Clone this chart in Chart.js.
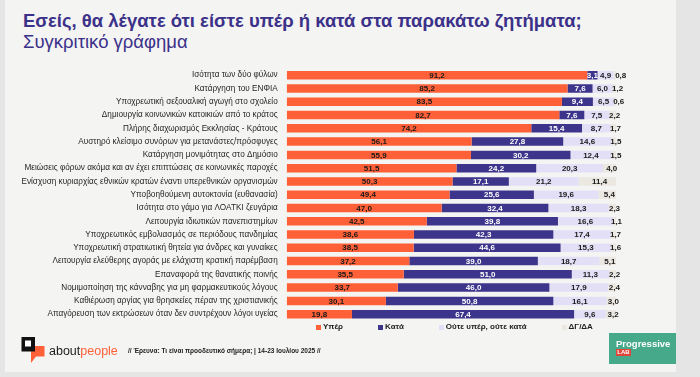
<!DOCTYPE html>
<html lang="el">
<head>
<meta charset="UTF-8">
<title>Συγκριτικό γράφημα</title>
<script src="https://cdn.jsdelivr.net/npm/chart.js@4.4.1/dist/chart.umd.min.js"></script>
<style>
    html, body { margin: 0; padding: 0; }
    body {
        width: 700px; height: 377px; position: relative; overflow: hidden;
        background: #e5e5e5;
        font-family: "Liberation Sans", Arial, sans-serif;
    }
    .panel { position: absolute; left: 5px; top: 0; width: 671px; height: 372px; background: #f4f4f3; }
    #chart { position: absolute; left: 0; top: 0; }
    .title { position: absolute; left: 23px; top: 9.6px; font-size: 18.5px; line-height: 22px; font-weight: bold; color: #3b3189; white-space: nowrap; }
    .subtitle { position: absolute; left: 23px; top: 30.6px; font-size: 18.5px; line-height: 22px; color: #3b3189; white-space: nowrap; }
    .legend { position: absolute; left: 316px; top: 322px; display: flex; gap: 35px; font-size: 8px; line-height: 10px; font-weight: bold; color: #222; }
    .legend span.item { display: flex; align-items: center; white-space: nowrap; }
    .legend i { display: inline-block; width: 5px; height: 5px; margin-right: 2px; }
    .logo { position: absolute; left: 21px; top: 336px; }
    .brand { position: absolute; left: 49px; top: 343px; font-size: 12.5px; line-height: 16px; color: #1c1c1c; }
    .brand b { color: #ff6037; font-weight: normal; }
    .note { position: absolute; left: 128px; top: 347px; font-size: 6.5px; line-height: 8px; font-weight: bold; color: #222; white-space: nowrap; }
    .plab { position: absolute; left: 609px; top: 333px; width: 67px; height: 31px; background: #45a98a; }
    .plab .p { position: absolute; left: 7px; top: 5px; font-size: 9.5px; line-height: 11px; font-weight: bold; color: #fff; }
    .plab .lab { position: absolute; left: 7px; top: 16px; width: 15px; height: 7px; background: #e0453a; color: #fff; font-size: 6px; line-height: 7px; font-weight: bold; text-align: center; }
</style>
</head>
<body>
<div class="panel"></div>
<div class="title">Εσείς, θα λέγατε ότι είστε υπέρ ή κατά στα παρακάτω ζητήματα;</div>
<div class="subtitle">Συγκριτικό γράφημα</div>
<canvas id="chart" width="700" height="377"></canvas>
<div class="legend" id="legend"></div>
<svg class="logo" width="26" height="28" viewBox="0 0 26 28">
    <rect x="0.5" y="1" width="13.5" height="14.5" fill="#111"/>
    <rect x="4" y="4.5" width="6" height="6" fill="#fff"/>
    <path d="M10 10 H23.5 V20.5 H15 L10 27 Z" fill="#ff6037"/>
    <rect x="10" y="10" width="4" height="5.5" fill="#111"/>
</svg>
<div class="brand">about<b>people</b></div>
<div class="note">// Έρευνα: Τι είναι προοδευτικό σήμερα; | 14-23 Ιουλίου 2025 //</div>
<div class="plab"><div class="p">Progressive</div><div class="lab">LAB</div></div>

<script>
// Chart Data
const issues = [
    'Ισότητα των δύο φύλων',
    'Κατάργηση του ΕΝΦΙΑ',
    'Υποχρεωτική σεξουαλική αγωγή στο σχολείο',
    'Δημιουργία κοινωνικών κατοικιών από το κράτος',
    'Πλήρης διαχωρισμός Εκκλησίας - Κράτους',
    'Αυστηρό κλείσιμο συνόρων για μετανάστες/πρόσφυγες',
    'Κατάργηση μονιμότητας στο Δημόσιο',
    'Μειώσεις φόρων ακόμα και αν έχει επιπτώσεις σε κοινωνικές παροχές',
    'Ενίσχυση κυριαρχίας εθνικών κρατών έναντι υπερεθνικών οργανισμών',
    'Υποβοηθούμενη αυτοκτονία (ευθανασία)',
    'Ισότητα στο γάμο για ΛΟΑΤΚΙ ζευγάρια',
    'Λειτουργία ιδιωτικών πανεπιστημίων',
    'Υποχρεωτικός εμβολιασμός σε περιόδους πανδημίας',
    'Υποχρεωτική στρατιωτική θητεία για άνδρες και γυναίκες',
    'Λειτουργία ελεύθερης αγοράς με ελάχιστη κρατική παρέμβαση',
    'Επαναφορά της θανατικής ποινής',
    'Νομιμοποίηση της κάνναβης για μη φαρμακευτικούς λόγους',
    'Καθιέρωση αργίας για θρησκείες πέραν της χριστιανικής',
    'Απαγόρευση των εκτρώσεων όταν δεν συντρέχουν λόγοι υγείας'
];

const inFavour = [91.2, 85.2, 83.5, 82.7, 74.2, 56.1, 55.9, 51.5, 50.3, 49.4, 47.0, 42.5, 38.6, 38.5, 37.2, 35.5, 33.7, 30.1, 19.8];
const against = [3.1, 7.6, 9.4, 7.6, 15.4, 27.8, 30.2, 24.2, 17.1, 25.6, 32.4, 39.8, 42.3, 44.6, 39.0, 51.0, 46.0, 50.8, 67.4];
const neither = [4.9, 6.0, 6.5, 7.5, 8.7, 14.6, 12.4, 20.3, 21.2, 19.6, 18.3, 16.6, 17.4, 15.3, 18.7, 11.3, 17.9, 16.1, 9.6];
const dontKnow = [0.8, 1.2, 0.6, 2.2, 1.7, 1.5, 1.5, 4.0, 11.4, 5.4, 2.3, 1.1, 1.7, 1.6, 5.1, 2.2, 2.4, 3.0, 3.2];

const seriesNames = ['Υπέρ', 'Κατά', 'Ούτε υπέρ, ούτε κατά', 'ΔΓ/ΔΑ'];
const seriesColors = ['#ff6037', '#3d358b', '#e2dff7', '#ebe8e2'];
const labelColors = ['#1a1a1a', '#ffffff', '#1a1a1a', '#1a1a1a'];

const FONT = '"Liberation Sans", Arial, sans-serif';

// Format number with greek decimal comma
function fmt(v) {
    return v.toFixed(1).replace('.', ',');
}

// Value labels inside the bars
const valueLabels = {
    id: 'valueLabels',
    afterDatasetsDraw(chart) {
        const ctx = chart.ctx;
        ctx.save();
        ctx.font = 'bold 8px ' + FONT;
        ctx.textAlign = 'center';
        ctx.textBaseline = 'middle';

        chart.data.labels.forEach((label, i) => {
            let prevRight = -Infinity;
            chart.data.datasets.forEach((ds, d) => {
                const bar = chart.getDatasetMeta(d).data[i];
                const text = fmt(ds.data[i]);
                const w = ctx.measureText(text).width;
                let x = (bar.x + bar.base) / 2;
                // small last segment: push the label out to the right
                if (d === 3) x = Math.max(x + 2, prevRight + 4 + w / 2);
                ctx.fillStyle = labelColors[d];
                ctx.fillText(text, x, bar.y + 0.5);
                prevRight = x + w / 2;
            });
        });
        ctx.restore();
    }
};

// Build legend
function buildLegend() {
    const legend = document.getElementById('legend');
    seriesNames.forEach((name, i) => {
        const item = document.createElement('span');
        item.className = 'item';
        item.innerHTML = `<i style="background:${seriesColors[i]}"></i>${name}`;
        legend.appendChild(item);
    });
}

// Initialize Chart
function initializeChart() {
    const values = [inFavour, against, neither, dontKnow];

    new Chart(document.getElementById('chart'), {
        type: 'bar',
        data: {
            labels: issues,
            datasets: values.map((data, i) => ({
                label: seriesNames[i],
                data: data,
                backgroundColor: seriesColors[i],
                borderWidth: 0,
                barPercentage: 0.64,
                categoryPercentage: 1
            }))
        },
        options: {
            indexAxis: 'y',
            responsive: false,
            animation: false,
            devicePixelRatio: 1,
            layout: {
                padding: { left: 0, top: 68.6, right: 83.7, bottom: 56.2 }
            },
            plugins: {
                legend: { display: false },
                tooltip: { enabled: false }
            },
            scales: {
                x: {
                    stacked: true,
                    min: 0,
                    max: 100,
                    display: false
                },
                y: {
                    stacked: true,
                    grid: { display: false, drawTicks: false },
                    border: { display: false },
                    ticks: {
                        padding: 9,
                        color: '#262626',
                        font: { family: FONT, size: 8.2 }
                    },
                    afterFit(scale) {
                        scale.width = 286.7;
                    }
                }
            }
        },
        plugins: [valueLabels]
    });
}

document.addEventListener('DOMContentLoaded', () => {
    buildLegend();
    initializeChart();
});
</script>
</body>
</html>
